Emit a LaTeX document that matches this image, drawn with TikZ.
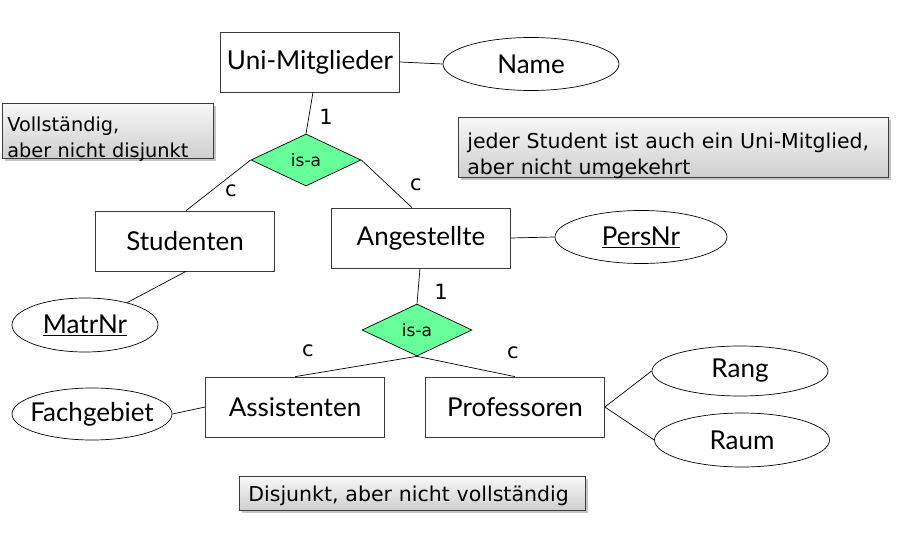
\documentclass[tikz,border=0pt]{standalone}
\usepackage{fontspec}
\setmainfont{Lato}
\newfontfamily\notefont{DejaVu Sans}
\usetikzlibrary{shapes.geometric,shadows}
\definecolor{isagreen}{RGB}{102,255,153}
\definecolor{boxline}{RGB}{60,60,60}
\begin{document}
\begin{tikzpicture}[x=1pt,y=-1pt,line width=0.7pt,
  entity/.style={draw=boxline,fill=white,minimum width=179pt,minimum height=60pt,font=\fontsize{26}{28}\selectfont},
  attrib/.style={draw,ellipse,inner ysep=0pt,inner xsep=-14pt,font=\fontsize{26}{28}\selectfont},
  isa/.style={draw,diamond,fill=isagreen,inner sep=0pt,minimum width=110pt,minimum height=52pt,font=\notefont\fontsize{17}{19}\selectfont},
  card/.style={font=\notefont\fontsize{21}{23}\selectfont},
  note/.style={draw=boxline,top color=gray!6,bottom color=gray!38,drop shadow={shadow xshift=2.5pt,shadow yshift=-2.5pt,opacity=0.45},
    align=left,anchor=north west,inner sep=0pt,text depth=0pt,font=\notefont\fontsize{20.5}{25.5}\selectfont}]
\useasboundingbox (0,0) rectangle (902,537);
% entities
\node[entity] (um) at (310,62) {Uni-Mitglieder};
\node[entity] (stud) at (185,241) {Studenten};
\node[entity] (ang) at (421,238) {Angestellte};
\node[entity] (assi) at (295,407) {Assistenten};
\node[entity] (prof) at (515,407) {Professoren};
% attributes
\node[attrib,minimum width=176pt,minimum height=53pt] (name) at (531,64) {Name};
\node[attrib,minimum width=172pt,minimum height=53pt] (pers) at (641,237) {\underline{PersNr}};
\node[attrib,minimum width=146pt,minimum height=54pt] (matr) at (85,325) {\underline{MatrNr}};
\node[attrib,minimum width=160pt,minimum height=52pt] (fach) at (92,414) {Fachgebiet};
\node[attrib,minimum width=176pt,minimum height=50pt] (rang) at (740,371) {Rang};
\node[attrib,minimum width=175pt,minimum height=54pt] (raum) at (742,440) {Raum};
% generalisations
\node[isa] (isaUM) at (306,160) {is-a};
\node[isa] (isaAng) at (417,330) {is-a};
% connectors
\draw ([xshift=3pt]um.south) -- (isaUM.north);
\draw (isaUM.west) -- ([xshift=1pt]stud.north);
\draw (isaUM.east) -- ([xshift=-9pt]ang.north);
\draw (um.east) -- (name.west);
\draw (ang.east) -- (pers.west);
\draw ([xshift=1pt]stud.south) -- (matr);
\draw ([xshift=-1pt]ang.south) -- (isaAng.north);
\draw (isaAng.south) -- (assi.north);
\draw (isaAng.south) -- (prof.north);
\draw (fach.east) -- (assi.west);
\draw (prof.east) -- (rang.west);
\draw (prof.east) -- (raum.west);
% cardinalities
\node[card] (c1) at (326,117) {1};
\node[card] (cStud) at (231,191) {c};
\node[card] (cAng) at (416,185) {c};
\node[card] (c2) at (441,292) {1};
\node[card] (cAssi) at (308,351) {c};
\node[card] (cProf) at (513,353) {c};
% notes
\node[note,minimum width=211pt,minimum height=55pt,text width=211pt,font=\notefont\fontsize{19.3}{25.5}\selectfont] (voll) at (2,103)
  {\hspace*{5pt}\parbox{204pt}{Vollständig,\\aber nicht disjunkt}};
\node[note,minimum width=430pt,minimum height=60pt,text width=430pt] (jeder) at (458,117)
  {\hspace*{9pt}\parbox{420pt}{jeder Student ist auch ein Uni-Mitglied,\\aber nicht umgekehrt}};
\node[note,minimum width=346pt,minimum height=34pt,text width=346pt] (disj) at (239,476)
  {\hspace*{9pt}Disjunkt, aber nicht vollständig};
\end{tikzpicture}
\end{document}
